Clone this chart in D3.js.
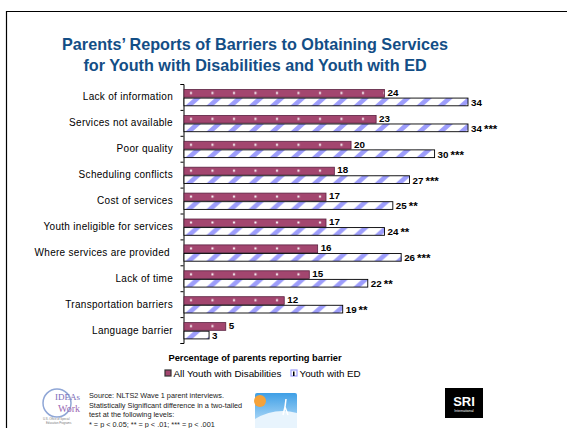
<!DOCTYPE html>
<html>
<head>
<meta charset="utf-8">
<script src="https://cdn.jsdelivr.net/npm/d3@7"></script>
<style>
  body { margin: 0; background: #fff; }
  svg { display: block; font-family: Arial, "Liberation Sans", sans-serif; }
</style>
</head>
<body>
<svg id="chart" width="567" height="428"></svg>
<script>
const categories = [
    "Lack of information", "Services not available", "Poor quality",
    "Scheduling conflicts", "Cost of services", "Youth ineligible for services",
    "Where services are provided ", "Lack of time", "Transportation barriers",
    "Language barrier"
];
const allYouth = [24, 23, 20, 18, 17, 17, 16, 15, 12, 5];
const youthED = [34, 34, 30, 27, 25, 24, 26, 22, 19, 3];
const edStars = ["", "***", "***", "***", "**", "**", "***", "**", "**", ""];
const seriesNames = ["All Youth with Disabilities", "Youth with ED"];
const sourceLines = [
    "Source: NLTS2 Wave 1 parent interviews.",
    "Statistically Significant difference in a two-tailed",
    "test at the following levels:",
    "* = p < 0.05;  ** = p < .01; *** = p < .001"
];

const svg = d3.select("#chart");
const purple = "#a3466f";
const stripe = "#9d9dfb";

// frame
svg.append("path")
    .attr("d", "M6.5,428 V11.5 H567")
    .attr("fill", "none").attr("stroke", "#000").attr("stroke-width", 1.2);

// title
svg.append("text")
    .attr("x", 255).attr("text-anchor", "middle")
    .attr("fill", "#134e86").attr("font-weight", "bold").attr("font-size", 16.2)
    .selectAll("tspan")
    .data(["Parents\u2019 Reports of Barriers to Obtaining Services",
           "for Youth with Disabilities and Youth with ED"])
    .join("tspan")
    .attr("x", 255).attr("y", (d, i) => 50 + i * 21)
    .text(d => d);

// patterns
const defs = svg.append("defs");
const pEd = defs.append("pattern").attr("id", "edPat")
    .attr("patternUnits", "userSpaceOnUse").attr("width", 21).attr("height", 8);
pEd.append("rect").attr("width", 21).attr("height", 8).attr("fill", "#fff");
pEd.append("polygon").attr("points", "1,8 8,8 17,0 10,0").attr("fill", stripe);

const pAll = defs.append("pattern").attr("id", "allPat")
    .attr("patternUnits", "userSpaceOnUse").attr("width", 21.5).attr("height", 8);
pAll.append("rect").attr("width", 21.5).attr("height", 8).attr("fill", purple);
pAll.append("rect").attr("x", 6).attr("y", 2.5).attr("width", 2).attr("height", 2).attr("fill", "#fff");

// scales
const x = d3.scaleLinear().domain([0, 34]).range([184, 468]);
const y = d3.scaleBand().domain(categories).range([84, 343]);
const sub = d3.scaleBand().domain(seriesNames).range([5.5, 21.8]).paddingInner(0.1);

// axis line with ticks between groups
const axis = d3.axisLeft(d3.scaleLinear().domain([0, categories.length]).range([84, 343]))
    .ticks(categories.length).tickSize(3).tickFormat("");
const ag = svg.append("g").attr("transform", "translate(183.5,0)").call(axis);
ag.select(".domain").attr("stroke", "#000");
ag.selectAll(".tick line").attr("stroke", "#000");

// category labels
svg.append("g").selectAll("text")
    .data(categories)
    .join("text")
    .attr("x", 173).attr("y", d => y(d) + y.bandwidth() / 2)
    .attr("dy", "0.35em").attr("text-anchor", "end")
    .attr("font-size", 10).attr("letter-spacing", 0.3).attr("fill", "#000")
    .attr("xml:space", "preserve")
    .text(d => d);

// bars
const rows = categories.map((c, i) => ({ c, all: allYouth[i], ed: youthED[i], stars: edStars[i] }));
const groups = svg.append("g").selectAll("g")
    .data(rows)
    .join("g")
    .attr("transform", d => `translate(${x(0)},${y(d.c)})`);

groups.append("g")
    .attr("transform", `translate(0,${sub(seriesNames[0])})`)
    .append("rect")
    .attr("width", d => x(d.all) - x(0)).attr("height", sub.bandwidth())
    .attr("fill", "url(#allPat)").attr("stroke", "#5a2140").attr("stroke-width", 0.8);

groups.append("g")
    .attr("transform", `translate(0,${sub(seriesNames[1])})`)
    .append("rect")
    .attr("width", d => x(d.ed) - x(0)).attr("height", sub.bandwidth())
    .attr("fill", "url(#edPat)").attr("stroke", "#000").attr("stroke-width", 0.9);

// value labels
groups.append("text")
    .attr("x", d => x(d.all) - x(0) + 3)
    .attr("y", sub(seriesNames[0]) + sub.bandwidth() / 2 - 1)
    .attr("dy", "0.35em").attr("font-size", 9.8).attr("font-weight", "bold")
    .text(d => d.all);

const edLabel = groups.append("text")
    .attr("x", d => x(d.ed) - x(0) + 3)
    .attr("y", sub(seriesNames[1]) + sub.bandwidth() / 2 + 0.5)
    .attr("dy", "0.35em").attr("font-size", 9.8).attr("font-weight", "bold");
edLabel.append("tspan").text(d => d.ed);
edLabel.append("tspan")
    .attr("font-size", 11.5).attr("dx", 2).attr("dy", 1)
    .text(d => d.stars);

// axis title
svg.append("text")
    .attr("x", 255).attr("y", 361).attr("text-anchor", "middle")
    .attr("font-size", 9.3).attr("font-weight", "bold")
    .text("Percentage of parents reporting barrier");

// legend
const legendX = [165, 291];
const leg = svg.append("g").selectAll("g")
    .data(seriesNames)
    .join("g")
    .attr("transform", (d, i) => `translate(${legendX[i]},370)`);
leg.append("rect")
    .attr("width", 6).attr("height", 6)
    .attr("fill", (d, i) => i === 0 ? purple : "#fff")
    .attr("stroke", (d, i) => i === 0 ? "#333" : stripe).attr("stroke-width", 1.2);
leg.filter((d, i) => i === 1).append("rect")
    .attr("x", 2).attr("y", 1.5).attr("width", 1.5).attr("height", 4.5).attr("fill", "#000");
leg.append("text")
    .attr("x", 8.5).attr("y", 6.5)
    .attr("font-size", 9.8)
    .text(d => d);

// source note
svg.append("g").selectAll("text")
    .data(sourceLines)
    .join("text")
    .attr("x", 89).attr("y", (d, i) => 398 + i * 9.6)
    .attr("font-size", 7.3).attr("fill", "#222")
    .text(d => d);

// IDEAs logo (approximation)
const idea = svg.append("g").attr("transform", "translate(41,386)");
idea.append("ellipse").attr("cx", 16).attr("cy", 17).attr("rx", 14).attr("ry", 14)
    .attr("fill", "none").attr("stroke", "#8fa6d6").attr("stroke-width", 1.5);
idea.append("text").attr("x", 14).attr("y", 14).attr("font-family", "Liberation Serif, serif")
    .attr("font-size", 9).attr("fill", "#7a6cb8").text("IDEAs");
idea.append("text").attr("x", 17).attr("y", 26).attr("font-family", "Liberation Serif, serif")
    .attr("font-size", 10).attr("fill", "#9b69b3").text("Work");
idea.append("text").attr("x", 2).attr("y", 34).attr("font-size", 2.8).attr("fill", "#777")
    .text("U.S. Office of Special");
idea.append("text").attr("x", 5).attr("y", 38).attr("font-size", 2.8).attr("fill", "#777")
    .text("Education Programs");

// center picture logo (approximation)
const pic = svg.append("g").attr("transform", "translate(255,393)");
const grad = defs.append("linearGradient").attr("id", "sky").attr("x1", 0).attr("y1", 0).attr("x2", 0).attr("y2", 1);
grad.append("stop").attr("offset", 0).attr("stop-color", "#3e9fe6");
grad.append("stop").attr("offset", 1).attr("stop-color", "#c9e6fb");
pic.append("rect").attr("width", 42).attr("height", 36).attr("rx", 2).attr("fill", "url(#sky)");
pic.append("circle").attr("cx", 5).attr("cy", 8).attr("r", 6).attr("fill", "#f5a23a");
pic.append("path").attr("d", "M0,26 Q20,14 42,20 V36 H0 Z").attr("fill", "#e8f4fd");
pic.append("path").attr("d", "M31,6 L30,14 L28,22 M30,14 L33,22").attr("stroke", "#fff")
    .attr("stroke-width", 1.5).attr("fill", "none");

// SRI logo (approximation)
const sri = svg.append("g").attr("transform", "translate(445,388)");
sri.append("rect").attr("width", 38).attr("height", 30).attr("fill", "#000");
sri.append("text").attr("x", 19).attr("y", 18).attr("text-anchor", "middle")
    .attr("font-size", 13).attr("font-weight", "bold").attr("fill", "#fff").text("SRI");
sri.append("text").attr("x", 19).attr("y", 24).attr("text-anchor", "middle")
    .attr("font-size", 3.5).attr("fill", "#fff").text("International");
</script>
</body>
</html>
